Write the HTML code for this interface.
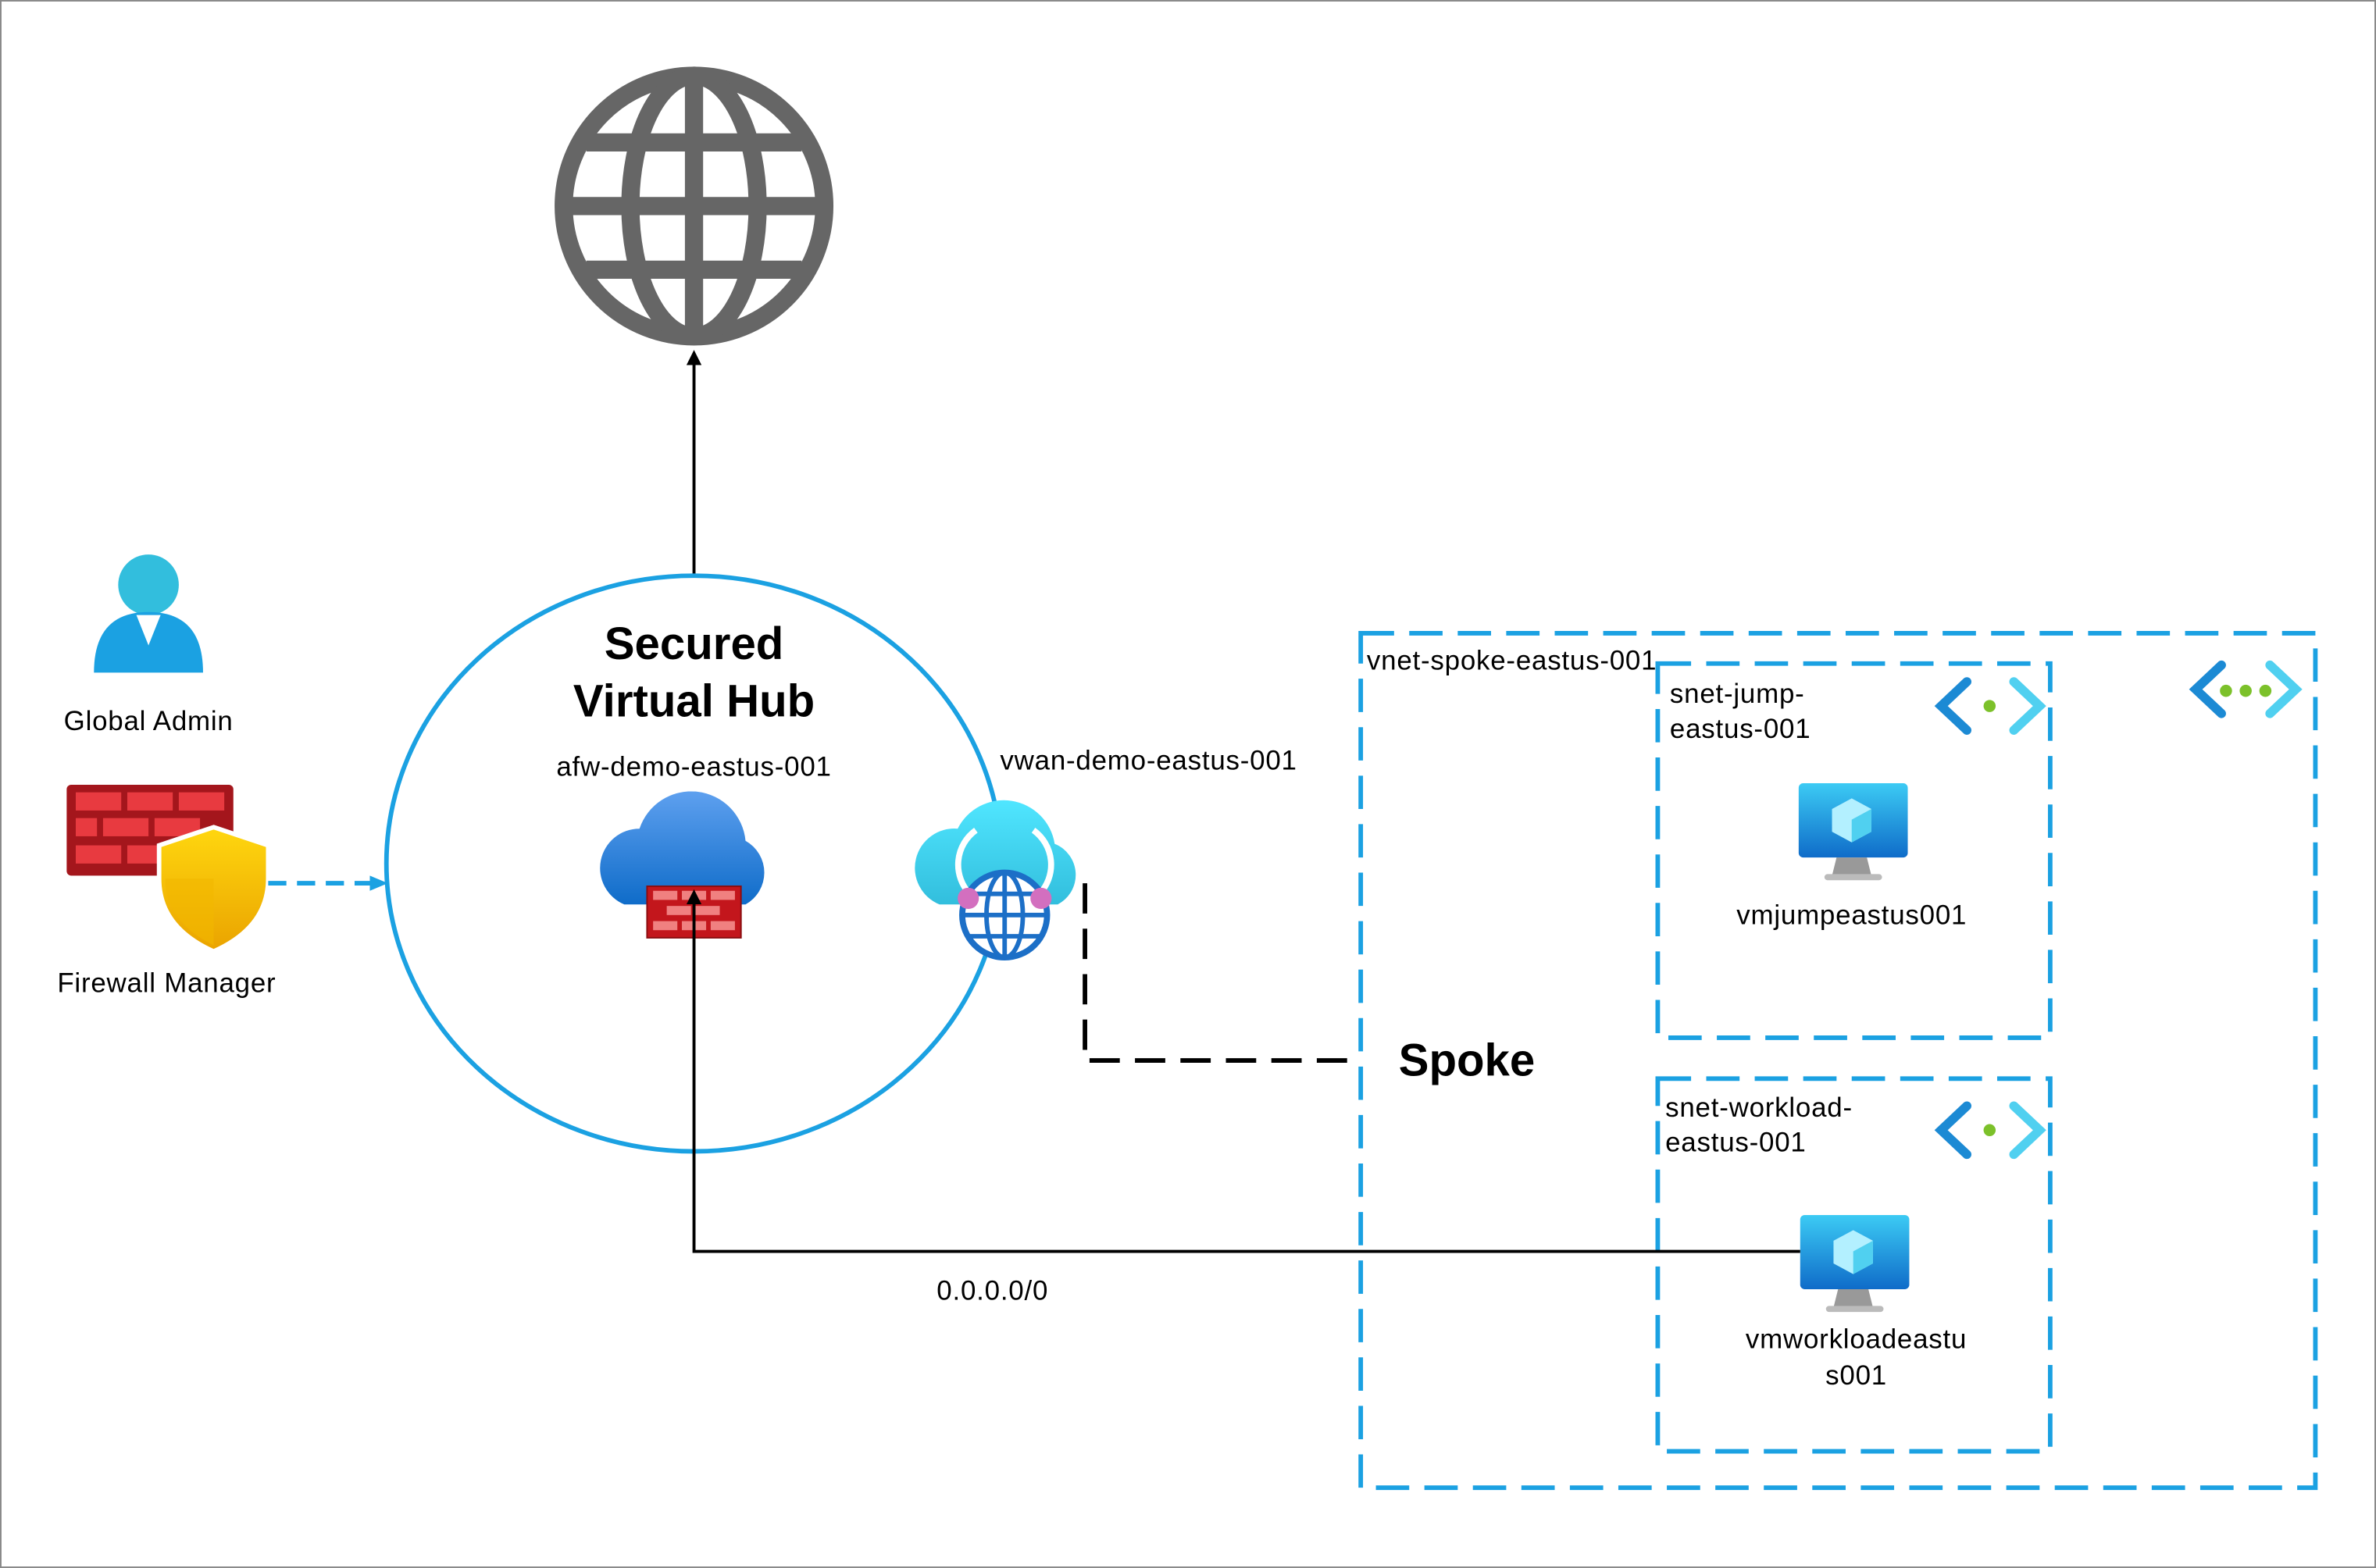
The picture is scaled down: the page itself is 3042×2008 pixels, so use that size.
<!DOCTYPE html>
<html><head><meta charset="utf-8"><style>
html,body{margin:0;padding:0;background:#fff}
svg{display:block}
text{font-family:"Liberation Sans","DejaVu Sans",sans-serif;fill:#000}
.l{font-size:18px;letter-spacing:0.4px}
</style></head><body>
<svg width="3042" height="2008" viewBox="0 0 1568 1035" xmlns="http://www.w3.org/2000/svg">
<defs>
<marker id="ah" markerWidth="10" markerHeight="10" refX="5" refY="5" orient="auto" markerUnits="userSpaceOnUse"><path d="M0,0 L10,5 L0,10 Z" fill="#000"/></marker>
<marker id="ahb" markerWidth="12" markerHeight="12" refX="8" refY="6" orient="auto" markerUnits="userSpaceOnUse"><path d="M0,1 L12,6 L0,11 Z" fill="#1ba1e2"/></marker>
<linearGradient id="cl" x1="0" y1="0" x2="0" y2="1"><stop offset="0" stop-color="#5ea0ef"/><stop offset="1" stop-color="#0f6cc9"/></linearGradient>
<linearGradient id="cl2" x1="0" y1="0" x2="0" y2="1"><stop offset="0" stop-color="#50e6ff"/><stop offset="1" stop-color="#32bedd"/></linearGradient>
<linearGradient id="mon" x1="0" y1="0" x2="0" y2="1"><stop offset="0" stop-color="#3ccbf4"/><stop offset="1" stop-color="#0f6cc9"/></linearGradient>
<linearGradient id="sh" x1="0" y1="0" x2="0" y2="1"><stop offset="0" stop-color="#ffd70f"/><stop offset="1" stop-color="#eaa300"/></linearGradient>
</defs>
<rect x="0.5" y="0.5" width="1567" height="1034" fill="#fff" stroke="#888" stroke-width="1"/>

<g fill="none" stroke="#666" stroke-width="12">
<circle cx="458" cy="136" r="86"/>
<ellipse cx="458" cy="136" rx="42" ry="86"/>
<line x1="458" y1="50" x2="458" y2="222"/>
<line x1="372" y1="136" x2="544" y2="136"/>
<line x1="387" y1="94" x2="529" y2="94"/>
<line x1="387" y1="178" x2="529" y2="178"/>
</g>
<line x1="458" y1="380" x2="458" y2="236" stroke="#000" stroke-width="2" marker-end="url(#ah)"/>

<ellipse cx="458" cy="570" rx="203" ry="190" fill="none" stroke="#1ba1e2" stroke-width="3"/>
<text x="458" y="435" font-size="30" font-weight="bold" text-anchor="middle">Secured</text>
<text x="458" y="473" font-size="30" font-weight="bold" text-anchor="middle">Virtual Hub</text>
<text x="458" y="512" class="l" text-anchor="middle">afw-demo-eastus-001</text>
<text x="660" y="508" class="l">vwan-demo-eastus-001</text>

<path d="M412,597 a26,26 0 0 1 10,-50 a36,36 0 0 1 70,8 a24,24 0 0 1 0,42 Z" fill="url(#cl)"/>
<rect x="427" y="585" width="62" height="34" fill="#c3161c" stroke="#8a0d10"/>
<g fill="#f08080"><rect x="431" y="588" width="16" height="6"/><rect x="450" y="588" width="16" height="6"/><rect x="469" y="588" width="16" height="6"/><rect x="440" y="598" width="16" height="6"/><rect x="459" y="598" width="16" height="6"/><rect x="431" y="608" width="16" height="6"/><rect x="450" y="608" width="16" height="6"/><rect x="469" y="608" width="16" height="6"/></g>

<path d="M620,597 a26,26 0 0 1 12,-50 a34,34 0 0 1 64,10 a22,22 0 0 1 2,40 Z" fill="url(#cl2)"/>
<path d="M640,590 a28,28 0 0 1 4,-42 M686,590 a28,28 0 0 0 -4,-42" fill="none" stroke="#fff" stroke-width="4"/>
<circle cx="663" cy="604" r="28" fill="#fff" stroke="#1c6fc7" stroke-width="4"/>
<ellipse cx="663" cy="604" rx="12" ry="28" fill="none" stroke="#1c6fc7" stroke-width="3"/>
<line x1="635" y1="604" x2="691" y2="604" stroke="#1c6fc7" stroke-width="3"/>
<line x1="663" y1="576" x2="663" y2="632" stroke="#1c6fc7" stroke-width="3"/>
<line x1="640" y1="590" x2="686" y2="590" stroke="#1c6fc7" stroke-width="3"/>
<line x1="640" y1="618" x2="686" y2="618" stroke="#1c6fc7" stroke-width="3"/>
<circle cx="639" cy="593" r="7" fill="#d36fbf"/><circle cx="687" cy="593" r="7" fill="#d36fbf"/>

<circle cx="98" cy="386" r="20" fill="#32bedd"/>
<path d="M62,444 q0,-40 36,-40 q36,0 36,40 Z" fill="#1ba1e2"/>
<path d="M90,406 l8,20 l8,-20 Z" fill="#fff"/>
<text x="98" y="482" class="l" text-anchor="middle">Global Admin</text>

<rect x="44" y="518" width="110" height="60" rx="3" fill="#a4161c"/>
<g fill="#e83a40"><rect x="50" y="523" width="30" height="12"/><rect x="84" y="523" width="30" height="12"/><rect x="118" y="523" width="30" height="12"/><rect x="50" y="540" width="14" height="12"/><rect x="68" y="540" width="30" height="12"/><rect x="102" y="540" width="30" height="12"/><rect x="50" y="558" width="30" height="12"/><rect x="84" y="558" width="30" height="12"/></g>
<path d="M141,546 l36,12 v22 q0,32 -36,48 q-36,-16 -36,-48 v-22 Z" fill="url(#sh)" stroke="#fff" stroke-width="3"/>
<path d="M141,550 v74 q-32,-16 -32,-44 h32" fill="#f2b800" opacity=".6"/>
<text x="110" y="655" class="l" text-anchor="middle">Firewall Manager</text>
<line x1="177" y1="583" x2="252" y2="583" stroke="#1ba1e2" stroke-width="3" stroke-dasharray="12,7" marker-end="url(#ahb)"/>

<polyline points="716,583 716,700 898,700" fill="none" stroke="#000" stroke-width="3" stroke-dasharray="20,10"/>
<text x="968" y="710" font-size="30" font-weight="bold" text-anchor="middle">Spoke</text>

<rect x="898" y="418" width="630" height="564" fill="none" stroke="#1ba1e2" stroke-width="3" stroke-dasharray="22,10"/>
<text x="902" y="442" class="l">vnet-spoke-eastus-001</text>
<rect x="1094" y="438" width="259" height="247" fill="none" stroke="#1ba1e2" stroke-width="3" stroke-dasharray="22,10"/>
<text x="1102" y="464" class="l">snet-jump-</text>
<text x="1102" y="487" class="l">eastus-001</text>
<rect x="1094" y="712" width="259" height="246" fill="none" stroke="#1ba1e2" stroke-width="3" stroke-dasharray="22,10"/>
<text x="1099" y="737" class="l">snet-workload-</text>
<text x="1099" y="760" class="l">eastus-001</text>

<g fill="none" stroke-width="6" stroke-linecap="round">
<path d="M1298,450 l-17,16 l17,16" stroke="#1c8ad4"/><path d="M1329,450 l17,16 l-17,16" stroke="#50d0f0"/>
<circle cx="1313" cy="466" r="4" fill="#7cc12a" stroke="none"/>
</g>
<g transform="translate(0,280)" fill="none" stroke-width="6" stroke-linecap="round">
<path d="M1298,450 l-17,16 l17,16" stroke="#1c8ad4"/><path d="M1329,450 l17,16 l-17,16" stroke="#50d0f0"/>
<circle cx="1313" cy="466" r="4" fill="#7cc12a" stroke="none"/>
</g>
<g fill="none" stroke-width="6" stroke-linecap="round">
<path d="M1466,439 l-17,16 l17,16" stroke="#1c8ad4"/><path d="M1498,439 l17,16 l-17,16" stroke="#50d0f0"/>
<circle cx="1469" cy="456" r="4" fill="#7cc12a" stroke="none"/><circle cx="1482" cy="456" r="4" fill="#7cc12a" stroke="none"/><circle cx="1495" cy="456" r="4" fill="#7cc12a" stroke="none"/>
</g>

<g>
<rect x="1187" y="517" width="72" height="49" rx="3" fill="url(#mon)"/>
<path d="M1222,527 l13,7 v15 l-13,7 l-13,-7 v-15 Z" fill="#b3f0ff"/><path d="M1222,541 l13,-7 v15 l-13,7 Z" fill="#50d0f0"/>
<path d="M1212,566 h20 l3,12 h-26 Z" fill="#999"/><rect x="1204" y="577" width="38" height="4" rx="2" fill="#bbb"/>
<text x="1222" y="610" class="l" text-anchor="middle">vmjumpeastus001</text>
</g>
<g transform="translate(1,285)">
<rect x="1187" y="517" width="72" height="49" rx="3" fill="url(#mon)"/>
<path d="M1222,527 l13,7 v15 l-13,7 l-13,-7 v-15 Z" fill="#b3f0ff"/><path d="M1222,541 l13,-7 v15 l-13,7 Z" fill="#50d0f0"/>
<path d="M1212,566 h20 l3,12 h-26 Z" fill="#999"/><rect x="1204" y="577" width="38" height="4" rx="2" fill="#bbb"/>
</g>
<text x="1225" y="890" class="l" text-anchor="middle">vmworkloadeastu</text>
<text x="1225" y="914" class="l" text-anchor="middle">s001</text>

<polyline points="1188,826 458,826 458,592" fill="none" stroke="#000" stroke-width="2" marker-end="url(#ah)"/>
<text x="655" y="858" class="l" text-anchor="middle">0.0.0.0/0</text>
</svg>
</body></html>
